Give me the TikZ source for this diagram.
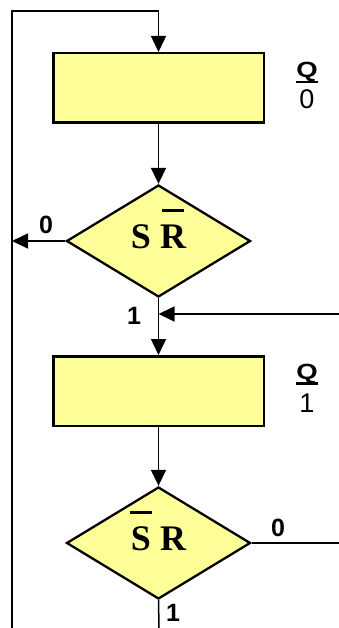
\documentclass[tikz,border=0pt]{standalone}
\usepackage{fontspec}
\setmainfont{Liberation Serif}
\setsansfont{Liberation Sans}
\usepackage{graphicx}
\usepackage{tikz}
\definecolor{pale-yellow}{HTML}{FFFF99}
\usetikzlibrary{arrows.meta,shapes.geometric,positioning}
% negated input: thick bar over the letter
\newcommand*\inv[1]{\setbox0\hbox{#1}\rlap{\smash{\hbox to \wd0{\hss\rule[\dimexpr\ht0+12pt\relax]{22pt}{3pt}\hss}}}\box0\relax}
\newcommand*\ulq[1]{\setbox0\hbox{#1}\rlap{\rule[-5.5pt]{\wd0}{2.6pt}}\box0\relax}

\begin{document}
\begin{tikzpicture}[x=1pt,y=-1pt,
				state/.style={draw,line width=2.5pt,fill=pale-yellow,minimum width=210.5pt,minimum height=69.5pt,inner sep=0pt},
				test/.style={draw,line width=2.3pt,fill=pale-yellow,diamond,minimum width=184pt,minimum height=112pt,inner sep=0pt,text height=20pt,text depth=6pt,font=\fontsize{36}{40}\selectfont\bfseries},
				qname/.style={anchor=base,inner sep=0pt,font=\sffamily\bfseries\fontsize{22}{24}\selectfont},
				qval/.style={anchor=base,inner sep=0pt,font=\sffamily\fontsize{27}{31}\selectfont},
				bit/.style={font=\sffamily\bfseries\fontsize{25}{28}\selectfont,inner sep=0pt},
				arr/.style={line width=1.5pt,-{Triangle[length=16pt,width=15pt]}},
				wire/.style={line width=1.5pt}]
				\useasboundingbox (0,0) rectangle (339,628);
				\node (box0) [state] at (158.5,88) {};
				\node (d0) [test] at (158.5,241) {S \inv{R}};
				\node (box1) [state] at (158.5,391) {};
				\node (d1) [test] at (158.5,543) {\inv{S} R};
				\node (q0) [qname] at (307,78) {\ulq{\scalebox{1.25}[1]{Q}}};
				\node (v0) [qval] at (307,109) {0};
				\node (q1) [qname] at (307,379) {\ulq{\scalebox{1.25}[1]{Q}}};
				\node (v1) [qval] at (307,412) {1};
				\coordinate (loopbot) at (12,628);
				\coordinate (looptop) at (12,11);
				\coordinate (in1) at (339,314);
				\coordinate (out0) at (339,543);
				\coordinate (out1) at (159,628);
				\draw[arr] (loopbot) -- (looptop) -| (box0.north);
				\draw[arr] (box0) -- (d0);
				\draw[arr] (d0.west) -- (d0.west -| loopbot);
				\draw[arr] (d0.south) -- (box1.north);
				\draw[arr] (in1) -- (in1 -| d0.south);
				\draw[arr] (box1) -- (d1);
				\draw[wire] (d1.east) -- (out0);
				\draw[wire] (d1.south) -- (out1);
				\node (no0) [bit] at (46,225) {0};
				\node (yes0) [bit] at (134,316) {1};
				\node (no1) [bit] at (278,528) {0};
				\node (yes1) [bit] at (173,613) {1};
\end{tikzpicture}
\end{document}
